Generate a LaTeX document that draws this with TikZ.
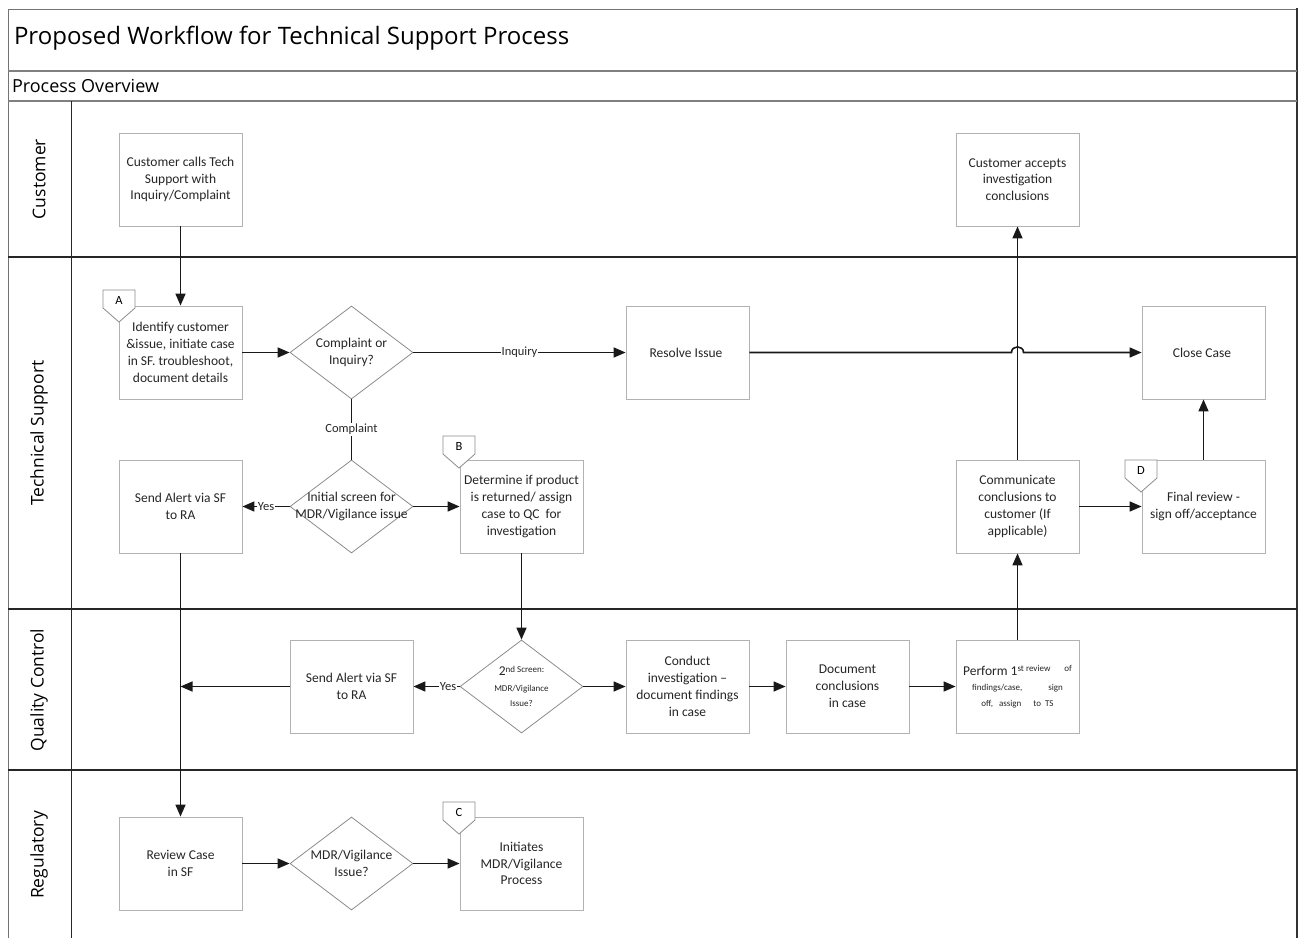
\documentclass[tikz,border=0pt]{standalone}
\usepackage{fontspec}
\setmainfont{Carlito}
\newfontfamily\headfont{Open Sans}
\usetikzlibrary{arrows.meta,shapes.geometric,positioning}

\tikzset{
    taskbox/.style={
        rectangle, draw=black!30, fill=white, line width=0.8pt,
        minimum width=123pt, minimum height=93pt, inner sep=2pt,
        align=center, text=black!85, font=\fontsize{13.5}{16.8}\selectfont
    },
    choice/.style={
        diamond, draw=black!45, fill=white, line width=0.8pt, aspect=1.32,
        minimum width=123pt, minimum height=93pt, inner sep=-40pt,
        align=center, text=black!85, font=\fontsize{13.5}{16.8}\selectfont
    },
    offpage/.style={
        draw=black!45, fill=white, line width=0.8pt
    },
    flow/.style={
        line width=1.6pt, black!90,
        -{Triangle[length=12pt,width=10pt]}
    },
    flowlabel/.style={
        fill=white, inner sep=1pt, text=black!85,
        font=\fontsize{12.5}{14}\selectfont
    },
    lanelabel/.style={
        rotate=90, font=\headfont\fontsize{17.5}{20}\selectfont
    }
}

% off-page marker with a letter
\newcommand{\refmark}[3]{%
    \draw[offpage] (#1,#2) -- ++(32,0) -- ++(0,18) -- ++(-16,14) -- ++(-16,-14) -- cycle;
    \node[font=\fontsize{12.5}{14}\selectfont] at (#1+16,#2+10) {#3};
}

\begin{document}
\begin{tikzpicture}[x=1pt, y=-1pt]
    \useasboundingbox (0,0) rectangle (1298,937);

    % frame and lanes
    \draw[black!55, line width=1pt] (8,938) -- (8,9) -- (1297,9);
    \draw[black!80, line width=2.2pt] (1297,8) -- (1297,938);
    \draw[black!50, line width=1.2pt] (8,71) -- (1297,71);
    \draw[black!50, line width=1.2pt] (8,101) -- (1297,101);
    \draw[black!85, line width=1pt] (71,101) -- (71,938);
    \foreach \y in {257, 609, 770}
        \draw[black!85, line width=1.3pt] (8,\y) -- (1297,\y);

    \node (title) [anchor=west, shift={(10.5,38)}, font=\headfont\fontsize{24}{27}\selectfont]
    {
        Proposed Workflow for Technical Support Process
    };
    \node (overview) [anchor=west, shift={(8.5,86)}, font=\headfont\fontsize{18}{20}\selectfont]
    {
        Process Overview
    };
    \node (lane_customer) [lanelabel] at (39,179) {Customer};
    \node (lane_support) [lanelabel] at (39,433) {Technical Support};
    \node (lane_qc) [lanelabel] at (39,690) {Quality Control};
    \node (lane_regulatory) [lanelabel] at (39,855) {Regulatory};

    % customer lane
    \node (customer_calls) [taskbox, shift={(180.5,179.5)}]
    {
        Customer calls Tech\\Support with\\Inquiry/Complaint
    };
    \node (customer_accepts) [taskbox, shift={(1017.5,179.5)}]
    {
        Customer accepts\\investigation\\conclusions
    };

    % technical support lane
    \node (identify_customer) [taskbox, shift={(180.5,352.5)}]
    {
        Identify customer\\\&issue, initiate case\\in SF. troubleshoot,\\document details
    };
    \node (complaint_or_inquiry) [choice, shift={(351.5,352.5)}]
    {
        Complaint or\\Inquiry?
    };
    \node (resolve_issue) [taskbox, shift={(687.5,352.5)}]
    {
        Resolve Issue
    };
    \node (close_case) [taskbox, shift={(1203.5,352.5)}]
    {
        Close Case
    };
    \node (send_alert_ts) [taskbox, shift={(180.5,506.5)}]
    {
        Send Alert via SF\\to RA
    };
    \node (initial_screen) [choice, shift={(351.5,506.5)}]
    {
        Initial screen for\\MDR/Vigilance issue
    };
    \node (determine_return) [taskbox, shift={(521.5,506.5)}]
    {
        Determine if product\\is returned/ assign\\case to QC~ for\\investigation
    };
    \node (communicate) [taskbox, shift={(1017.5,506.5)}]
    {
        Communicate\\conclusions to\\customer (If\\applicable)
    };
    \node (final_review) [taskbox, shift={(1203.5,506.5)}]
    {
        Final review -\\sign off/acceptance
    };

    % quality control lane
    \node (send_alert_qc) [taskbox, shift={(351.5,686.5)}]
    {
        Send Alert via SF\\to RA
    };
    \node (second_screen) [choice, shift={(521.5,686.5)}, font=\fontsize{9}{15.5}\selectfont]
    {
        {\fontsize{13.5}{15.5}\selectfont 2}\raisebox{3.5pt}{nd Screen:}\\MDR/Vigilance\\Issue?
    };
    \node (conduct_investigation) [taskbox, shift={(687.5,686.5)}]
    {
        Conduct\\investigation --\\document findings\\in case
    };
    \node (document_conclusions) [taskbox, shift={(847.5,686.5)}]
    {
        Document\\conclusions\\in case
    };
    \node (first_review) [taskbox, shift={(1017.5,686.5)}, font=\fontsize{9}{15.5}\selectfont]
    {
        {\fontsize{13.5}{15.5}\selectfont Perform 1}\raisebox{3.5pt}{st review\hspace{14pt}of}\\
        findings/case,\hspace{26pt}sign\\
        off,\hspace{6pt}assign\hspace{12pt}to\hspace{4pt}TS
    };
    \coordinate (qc_join) at (180.5,686.5);

    % regulatory lane
    \node (review_case) [taskbox, shift={(180.5,863.5)}]
    {
        Review Case\\in SF
    };
    \node (mdr_issue) [choice, shift={(351.5,863.5)}]
    {
        MDR/Vigilance\\Issue?
    };
    \node (initiates_mdr) [taskbox, shift={(521.5,863.5)}]
    {
        Initiates\\MDR/Vigilance\\Process
    };

    % off-page markers
    \refmark{103}{290}{A}
    \refmark{443}{436}{B}
    \refmark{443}{802}{C}
    \refmark{1125}{460}{D}

    % connectors
    \draw[flow] (customer_calls) to (identify_customer);
    \draw[flow] (identify_customer) to (complaint_or_inquiry);
    \draw[flow] (complaint_or_inquiry) to node[flowlabel] {Inquiry} (resolve_issue);
    \draw[flow] (resolve_issue.east) -- (1011.5,352.5)
        .. controls (1011.5,345) and (1023.5,345) .. (1023.5,352.5) -- (close_case.west);
    \draw[line width=1.6pt, black!90] (complaint_or_inquiry) to node[flowlabel] {Complaint} (initial_screen);
    \draw[flow] (initial_screen) to node[flowlabel] {Yes} (send_alert_ts);
    \draw[flow] (initial_screen) to (determine_return);
    \draw[flow] (determine_return) to (second_screen);
    \draw[flow] (send_alert_ts) to (review_case);
    \draw[flow] (second_screen) to node[flowlabel, pos=0.25] {Yes} (send_alert_qc);
    \draw[flow] (send_alert_qc) to (qc_join);
    \draw[flow] (second_screen) to (conduct_investigation);
    \draw[flow] (conduct_investigation) to (document_conclusions);
    \draw[flow] (document_conclusions) to (first_review);
    \draw[flow] (first_review) to (communicate);
    \draw[flow] (communicate) to (customer_accepts);
    \draw[flow] (communicate) to (final_review);
    \draw[flow] (final_review) to (close_case);
    \draw[flow] (review_case) to (mdr_issue);
    \draw[flow] (mdr_issue) to (initiates_mdr);
\end{tikzpicture}
\end{document}
